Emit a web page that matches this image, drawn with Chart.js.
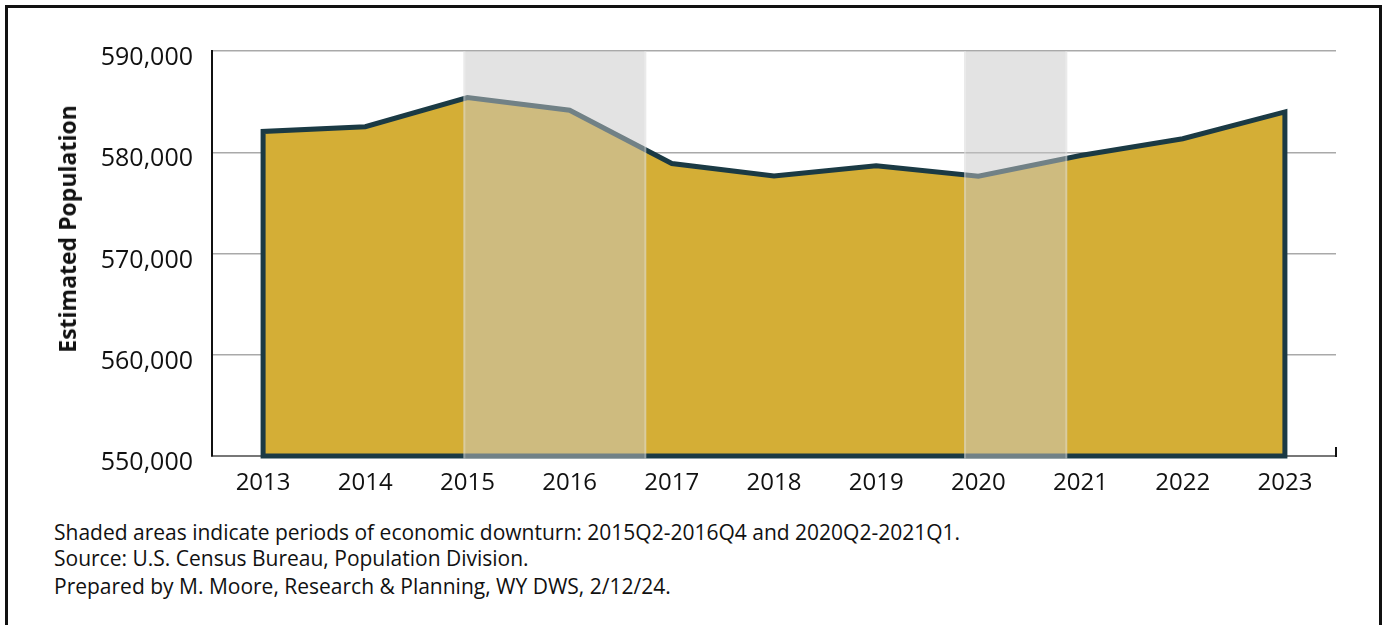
<!DOCTYPE html>
<html lang="en">
<head>
  <meta charset="UTF-8">
  <title>Estimated Population, 2013-2023</title>
  <script src="https://cdn.jsdelivr.net/npm/chart.js"></script>
  <style>
    body { margin: 0; background: #fff; font-family: "Open Sans", sans-serif; color: #111; }
    #frame { position: absolute; left: 5px; top: 5px; width: 1371px; height: 700px; border: 3px solid #111; }
    #wrap { position: absolute; left: 0; top: 0; width: 1385px; height: 500px; }
    #ytitle { position: absolute; left: 67px; top: 229px; transform: translate(-50%, -50%) rotate(-90deg);
              font-weight: bold; font-size: 23px; white-space: nowrap; }
    .note { position: absolute; left: 54px; font-size: 21px; white-space: nowrap; }
  </style>
</head>
<body>
  <div id="frame"></div>
  <div id="wrap"><canvas id="popChart"></canvas></div>
  <div id="ytitle">Estimated Population</div>
  <div class="note" style="top:518px">Shaded areas indicate periods of economic downturn: 2015Q2-2016Q4 and 2020Q2-2021Q1.</div>
  <div class="note" style="top:544px">Source: U.S. Census Bureau, Population Division.</div>
  <div class="note" style="top:572px">Prepared by M. Moore, Research &amp; Planning, WY DWS, 2/12/24.</div>

  <script>
    const years = ['2013', '2014', '2015', '2016', '2017', '2018', '2019', '2020', '2021', '2022', '2023'];
    const population = [582050, 582520, 585400, 584150, 578890, 577650, 578660, 577630, 579680, 581330, 583980];
    const tickValues = [550000, 560000, 570000, 580000, 590000];

    // downturn periods, as fractional positions on the year axis
    const downturnStart = [2014.96, 2019.86];
    const downturnEnd = [2016.75, 2020.87];

    const gold = '#D4AE36';
    const outline = '#1B3A44';

    // outline of the whole area, plus the downturn shading on top
    const overlayPlugin = {
      id: 'overlay',
      afterDatasetsDraw(chart) {
        const ctx = chart.ctx;
        const x = chart.scales.x;
        const y = chart.scales.y;
        const area = chart.chartArea;
        const pts = chart.getDatasetMeta(0).data;
        const base = y.getPixelForValue(tickValues[0]);

        ctx.save();
        ctx.beginPath();
        ctx.moveTo(pts[0].x, base);
        pts.forEach(p => ctx.lineTo(p.x, p.y));
        ctx.lineTo(pts[pts.length - 1].x, base);
        ctx.closePath();
        ctx.lineWidth = 5;
        ctx.lineJoin = 'miter';
        ctx.strokeStyle = outline;
        ctx.stroke();

        // little end tick on the right of the x axis
        ctx.beginPath();
        ctx.moveTo(area.right, base + 1);
        ctx.lineTo(area.right, base - 9);
        ctx.lineWidth = 2;
        ctx.strokeStyle = '#111';
        ctx.stroke();

        for (let i = 0; i < downturnStart.length; i++) {
          const x1 = x.getPixelForValue(downturnStart[i] - Number(years[0]));
          const x2 = x.getPixelForValue(downturnEnd[i] - Number(years[0]));
          const top = area.top;
          const h = base + 2.5 - top;
          ctx.fillStyle = 'rgba(200,200,200,0.5)';
          ctx.fillRect(x1, top, x2 - x1, h);
          ctx.fillStyle = 'rgba(255,255,255,0.25)';
          ctx.fillRect(x1, top, 2, h);
          ctx.fillRect(x2 - 2, top, 2, h);
        }
        ctx.restore();
      }
    };

    const ctx = document.getElementById('popChart').getContext('2d');
    new Chart(ctx, {
      type: 'line',
      data: {
        labels: years,
        datasets: [{
          label: 'Estimated Population',
          data: population,
          backgroundColor: gold,
          borderWidth: 0,
          fill: 'start',
          tension: 0,
          pointRadius: 0
        }]
      },
      options: {
        responsive: true,
        maintainAspectRatio: false,
        animation: false,
        layout: { padding: { top: 51, right: 49, left: 0, bottom: 0 } },
        plugins: {
          legend: { display: false },
          tooltip: { enabled: false }
        },
        scales: {
          x: {
            offset: true,
            afterFit(scale) { scale.height = 44; },
            grid: { display: false, drawTicks: false },
            border: { display: true, color: '#777', width: 2 },
            ticks: {
              padding: 13,
              color: '#111',
              font: { family: 'Open Sans', size: 24 }
            }
          },
          y: {
            min: tickValues[0],
            max: tickValues[tickValues.length - 1],
            afterFit(scale) { scale.width = 212; },
            afterBuildTicks(scale) { scale.ticks = tickValues.map(v => ({ value: v })); },
            grid: { color: '#a9a9a9', lineWidth: 1.5, drawTicks: false },
            border: { display: true, color: '#111', width: 2 },
            ticks: {
              padding: 19,
              labelOffset: 7,
              color: '#111',
              font: { family: 'Open Sans', size: 25 },
              callback: v => v.toLocaleString('en-US')
            }
          }
        }
      },
      plugins: [overlayPlugin]
    });
  </script>
</body>
</html>
